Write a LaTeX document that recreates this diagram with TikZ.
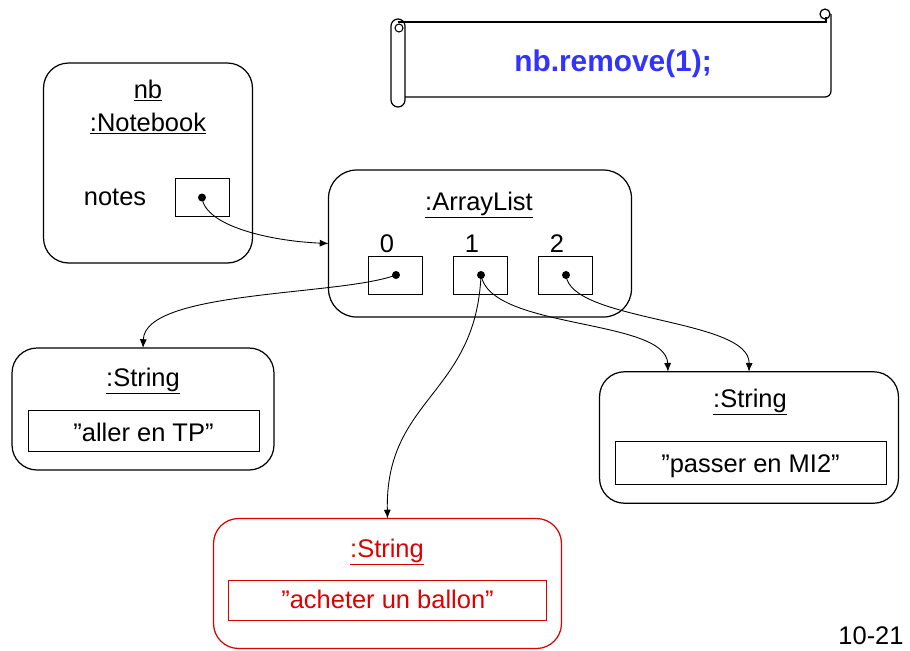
\documentclass[tikz,border=0pt]{standalone}
\usepackage{fontspec}
\setmainfont{Liberation Sans}
\usetikzlibrary{arrows.meta}
\definecolor{cmdblue}{RGB}{51,51,255}
\definecolor{delred}{RGB}{221,0,0}

\begin{document}
\begin{tikzpicture}[x=0.02cm,y=-0.02cm,
        font=\fontsize{14.5}{17}\selectfont,
        obj/.style={draw,line width=0.7pt,rounded corners=0.5cm,outer sep=0,inner sep=0},
        slot/.style={draw,line width=0.5pt,outer sep=0,inner sep=0,minimum width=1.08cm,minimum height=0.77cm},
        field/.style={draw,line width=0.5pt,outer sep=0,inner sep=0,minimum height=0.82cm},
        dot/.style={circle,fill,inner sep=0,minimum size=0.16cm},
        ref/.style={line width=0.5pt,-{Latex[length=5pt,width=4pt]}},
        lbl/.style={anchor=base,inner sep=0}]
    \useasboundingbox (0,0) rectangle (910,650);
    % the call, on a scroll
    \draw[line width=0.7pt,rounded corners=0.14cm](391,19) rectangle (405,107);
    \draw[line width=0.6pt](399,28) circle[radius=0.08cm];
    \draw[line width=0.7pt](398,22)--(826,22)--(826,17);
    \draw[line width=0.7pt](825,14) circle[radius=0.1cm];
    \draw[line width=0.7pt,rounded corners=0.12cm](831,14)--(831,97)--(405,97);
    \node[lbl,text=cmdblue,font=\bfseries\fontsize{17}{20}\selectfont] (call) at (613,71) {nb.remove(1);};
    % nb
    \node[obj,minimum width=4.18cm,minimum height=4.0cm] (nb) at (148,163) {};
    \node[lbl] (nbname) at (148,98) {\underline{nb}};
    \node[lbl] (nbclass) at (148,131) {\underline{:Notebook}};
    \node[lbl] (notes) at (115,205.5) {notes};
    \node[slot] (nslot) at (202,197.5) {};
    \node[dot] (ndot) at (nslot) {};
    % the list
    \node[obj,rounded corners=0.56cm,minimum width=6.06cm,minimum height=2.94cm] (al) at (480,243.5) {};
    \node[lbl] (altitle) at (479,210) {\underline{:ArrayList}};
    \node[lbl] (i0) at (387,252) {0};
    \node[lbl] (i1) at (472,252) {1};
    \node[lbl] (i2) at (557,252) {2};
    \node[slot] (e0) at (395,275.5) {};
    \node[slot] (e1) at (480,275.5) {};
    \node[slot] (e2) at (565,275.5) {};
    \node[dot] (d0) at (396,275) {};
    \node[dot] (d1) at (481,275) {};
    \node[dot] (d2) at (566,275) {};
    % the strings
    \node[obj,minimum width=5.24cm,minimum height=2.44cm] (s1) at (143,409) {};
    \node[lbl] (s1title) at (143,386) {\underline{:String}};
    \node[field,minimum width=4.62cm] (f1) at (143.5,430.5) {};
    \node[lbl] (t1) at (143.5,441) {”aller en TP”};
    \node[obj,minimum width=5.98cm,minimum height=2.63cm] (s2) at (749,437.5) {};
    \node[lbl] (s2title) at (750,407) {\underline{:String}};
    \node[field,minimum width=5.42cm,minimum height=0.86cm] (f2) at (750.5,462.5) {};
    \node[lbl] (t2) at (750.5,472) {”passer en MI2”};
    \node[obj,draw=delred,minimum width=6.96cm,minimum height=2.6cm] (s3) at (387.5,583.5) {};
    \node[lbl,text=delred] (s3title) at (387,557) {\underline{:String}};
    \node[field,draw=delred,minimum width=6.36cm,minimum height=0.8cm] (f3) at (387.5,600) {};
    \node[lbl,text=delred] (t3) at (387.5,608.5) {”acheter un ballon”};
    \node[lbl] (page) at (871,644) {10-21};
    % references
    \draw[ref](ndot.center) .. controls (205,226) and (270,241) .. (al.west);
    \draw[ref](d0.center) .. controls (340,296) and (145,290) .. (s1.north);
    \draw[ref](d1.center) .. controls (490,330) and (666,318) .. ([xshift=-1.62cm]s2.north);
    \draw[ref](d2.center) .. controls (570,322) and (750,318) .. (s2.north);
    \draw[ref](d1.center) .. controls (476,395) and (385,398) .. (s3.north);
\end{tikzpicture}
\end{document}
